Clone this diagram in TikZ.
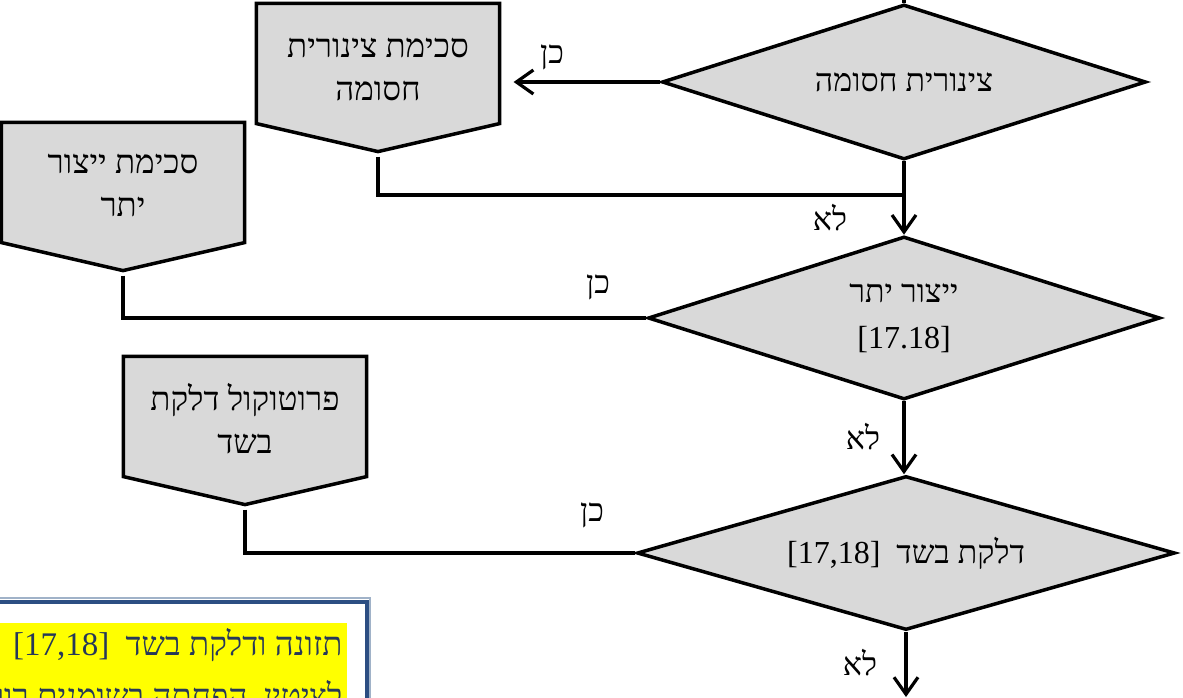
\documentclass[tikz,border=0pt]{standalone}
\usepackage{fontspec}
\TeXXeTstate=1
\newfontfamily\heb[Script=Hebrew]{Liberation Serif}
\usetikzlibrary{shapes.geometric,arrows.meta,backgrounds,calc}
\definecolor{shapegray}{RGB}{217,217,217}
\definecolor{notetext}{RGB}{38,56,89}
\definecolor{noteborder}{RGB}{44,78,130}
\definecolor{noteshadow}{RGB}{160,178,200}
\definecolor{hl}{RGB}{255,255,0}
\begin{document}
\begin{tikzpicture}[x=1pt,y=-1pt,line width=3.2pt,
  dec/.style={diamond, shape aspect=3, draw=black, fill=shapegray, line width=3.5pt, inner sep=0pt, align=center, font=\heb\fontsize{32}{46}\selectfont},
  lbl/.style={font=\heb\fontsize{32}{36}\selectfont, inner sep=0pt},
  boxshape/.style={minimum width=240pt, minimum height=117pt, inner sep=0pt},
  boxlabel/.style={inner sep=0pt, align=center, font=\heb\fontsize{33}{43}\selectfont},
  arr/.style={-{Straight Barb[length=17pt,width=24pt]}},
  notestyle/.style={font=\heb\fontsize{33}{36}\selectfont, text=notetext, inner sep=0pt}]
\useasboundingbox (0,0) rectangle (1183,698);

% decisions
\node[dec, minimum width=484, minimum height=155] (d1) at (904,82) {\beginR צינורית חסומה\endR};
\node[dec, minimum width=512, minimum height=163] (d2) at (904,318) {\beginR ייצור יתר\endR\\{[17.18]}};
\node[dec, minimum width=538, minimum height=154] (d3) at (906,553) {\beginR דלקת בשד\ \ \beginL[17,18]\endL\endR};

% boxes
\node[boxshape] (b1) at (378,63.5) {};
\node[boxshape] (b2) at (123,182.5) {};
\node[boxshape] (b3) at (245,416.5) {};

\begin{scope}[on background layer]
\foreach \b in {b1,b2,b3}
  \draw[line width=3.5pt, fill=shapegray] (\b.north west) -- (\b.north east) -- (\b.south east) -- ($(\b.south)+(0,28)$) -- (\b.south west) -- cycle;
\end{scope}

\node[boxlabel] (b1t) at ($(b1)+(0,6)$) {\beginR סכימת צינורית\endR\\\beginR חסומה\endR};
\node[boxlabel] (b2t) at ($(b2)+(0,3)$) {\beginR סכימת ייצור\endR\\\beginR יתר\endR};
\node[boxlabel] (b3t) at ($(b3)+(0,2)$) {\beginR פרוטוקול דלקת\endR\\\beginR בשד\endR};

\coordinate (b1tip) at ($(b1.south)+(0,28)$);
\coordinate (b2tip) at ($(b2.south)+(0,28)$);
\coordinate (b3tip) at ($(b3.south)+(0,28)$);
\coordinate (top) at (904,0);
\coordinate (j1) at (904,195);
\coordinate (end) at (906,697);

% connectors
\draw (top) -- (d1.north);
\draw[arr, shorten >=14pt] (d1.west) -- (d1.west -| b1.east);
\draw[shorten <=5pt] (b1tip) |- (j1);
\draw[arr] (d1.south) -- (d2.north);
\draw[shorten <=5pt] (b2tip) |- (d2.west);
\draw[arr] (d2.south) -- (d2.south |- d3.north);
\draw[shorten <=5pt] (b3tip) |- (d3.west);
\draw[arr] (d3.south) -- (end);

% labels
\node[lbl] (l1) at (552,57) {\beginR כן\endR};
\node[lbl] (l2) at (830,218) {\beginR לא\endR};
\node[lbl] (l3) at (598,287) {\beginR כן\endR};
\node[lbl] (l4) at (863,437) {\beginR לא\endR};
\node[lbl] (l5) at (592,515) {\beginR כן\endR};
\node[lbl] (l6) at (860,663) {\beginR לא\endR};

% note
\begin{scope}
\clip (0,0) rectangle (1183,698);
\fill[hl] (-5,623) rectangle (347,700);
\draw[noteshadow, line width=2pt] (-20,598) rectangle (370,730);
\draw[noteborder, line width=4pt] (-20,602) rectangle (367,730);
\node[notestyle, anchor=base east] (n1) at (344,655) {\beginR תזונה ודלקת בשד\ \ \beginL[17,18]\endL\endR};
\node[notestyle, anchor=base east] (n2) at (344,707) {\beginR לציטין, הפחתה בשומנים רוויים\endR};
\end{scope}
\end{tikzpicture}
\end{document}
